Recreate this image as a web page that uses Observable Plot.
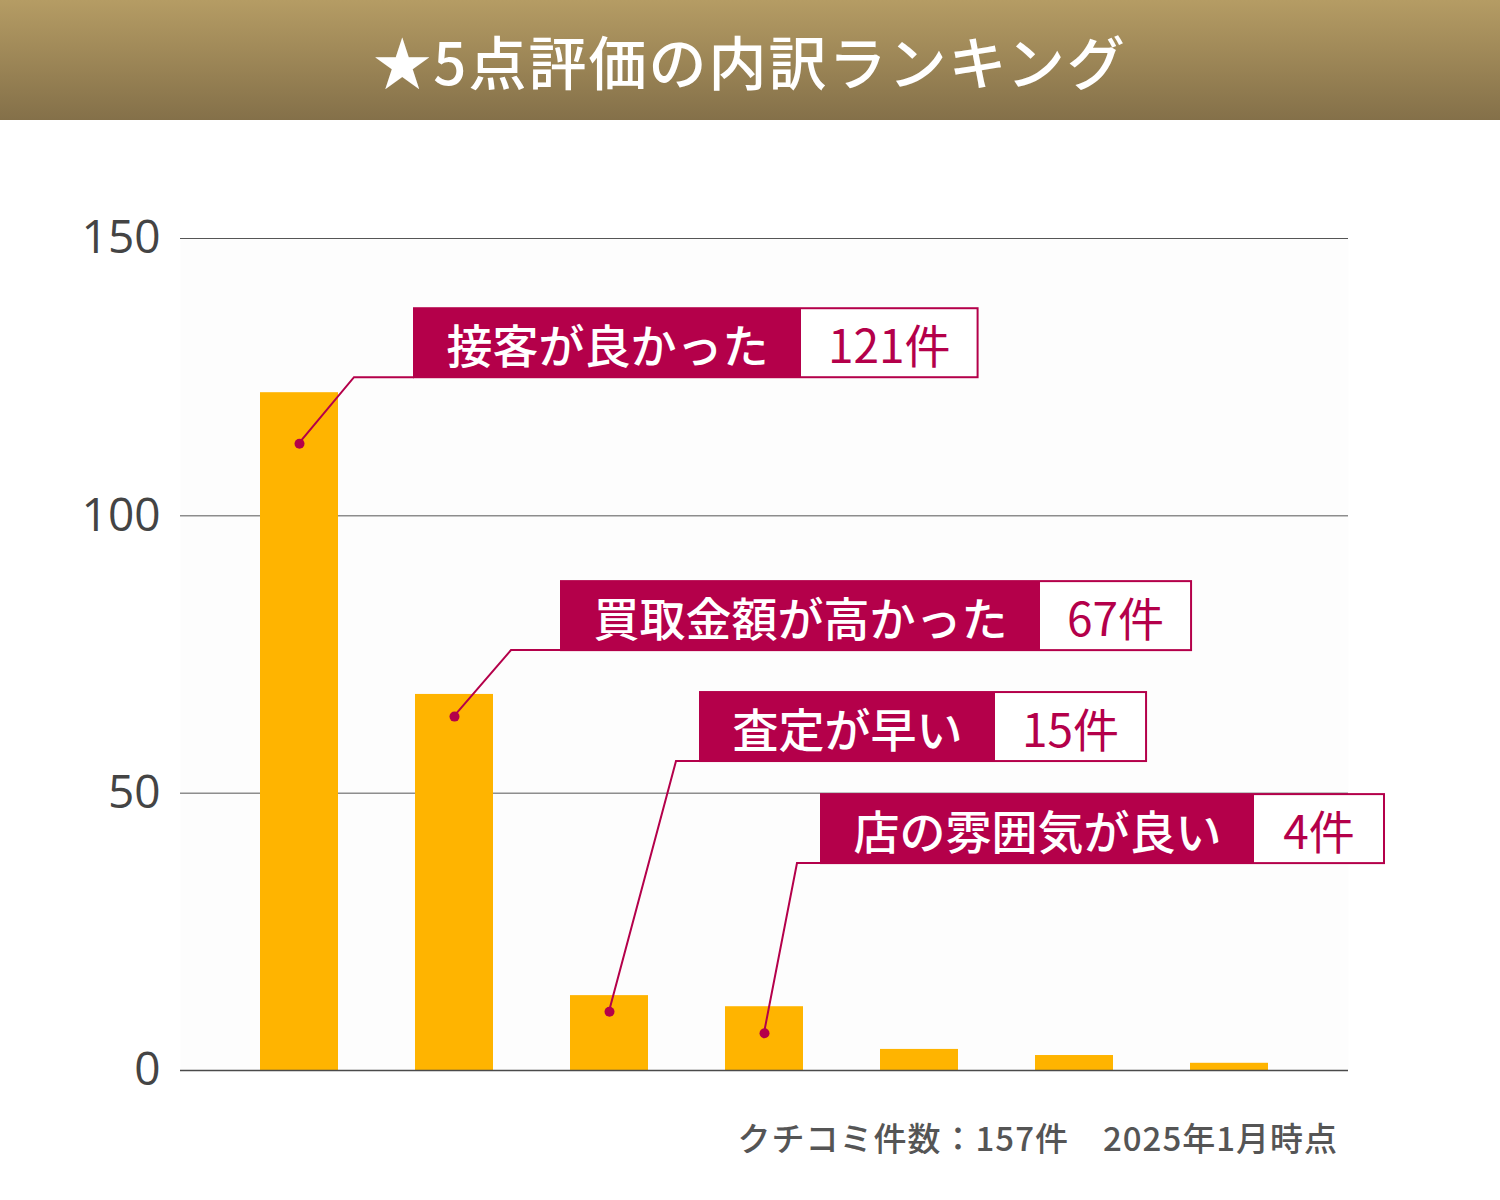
<!DOCTYPE html>
<html><head><meta charset="utf-8">
<script src="https://cdn.jsdelivr.net/npm/d3@7"></script>
<script src="https://cdn.jsdelivr.net/npm/@observablehq/plot@0.6"></script>
<style>
body{margin:0;background:#fff;width:1500px;font-family:"Noto Sans CJK JP","Noto Sans",sans-serif;}
#title{height:120px;background:linear-gradient(#b59c64,#847049);color:#fff;font-size:58px;font-weight:500;display:flex;align-items:center;justify-content:center;letter-spacing:2px;}
#chart svg{display:block;}
#caption{text-align:right;padding-right:162px;font-size:33px;line-height:34px;color:#555;font-weight:500;letter-spacing:1px;}
</style></head>
<body>
<div id="title">★5点評価の内訳ランキング</div>
<div id="chart"></div>
<div id="caption">クチコミ件数：157件　2025年1月時点</div>
<script>
// ---- data ----
const categories = ["接客が良かった","買取金額が高かった","査定が早い","店の雰囲気が良い","その他1","その他2","その他3"];
const barValues = [122.2, 67.8, 13.5, 11.5, 3.8, 2.7, 1.3];
const calloutLabels = ["接客が良かった","買取金額が高かった","査定が早い","店の雰囲気が良い"];
const calloutCounts = ["121件","67件","15件","4件"];
const yTicks = [0, 50, 100, 150];

// ---- annotation layout (kept apart from the data) ----
const dotAt = [113, 63.8, 10.6, 6.7];          // leader dot, in y units
const boxBottomAt = [124.9, 75.7, 55.7, 37.3]; // callout bottom, in y units
const elbowDx = [55, 57, 67, 33];              // px from bar centre
const boxDx = [115, 107, 91, 57];              // px from bar centre

const CRIMSON = "#b4004a";
const FONT = '"Noto Sans CJK JP","Noto Sans",sans-serif';
const data = categories.map((c, i) => ({cat: c, value: barValues[i]}));
const dots = calloutLabels.map((l, i) => ({cat: categories[i], y: dotAt[i]}));

const mctx = document.createElement("canvas").getContext("2d");
function tw(s, weight) { mctx.font = `${weight} 46px ${FONT}`; return mctx.measureText(s).width; }

function callouts(index, scales, values, dimensions) {
  const g = d3.create("svg:g");
  const x = scales.x, y = scales.y;
  const step = (dimensions.width - dimensions.marginLeft - dimensions.marginRight) / (categories.length + 0.5);
  const bw = typeof x.bandwidth === "function" ? x.bandwidth() : step * 0.5;
  const H = 69;
  calloutLabels.forEach((lab, i) => {
    const cx = x(categories[i]) + bw / 2;
    const dy = y(dotAt[i]);
    const by = y(boxBottomAt[i]);
    const ex = cx + elbowDx[i];
    const bx = cx + boxDx[i];
    const redW = tw(lab, 500) + 65;
    const whiteW = Math.max(tw(calloutCounts[i], 400) + 54, 130);
    g.append("polyline")
      .attr("points", `${cx},${dy} ${ex},${by} ${bx},${by}`)
      .attr("fill", "none").attr("stroke", CRIMSON).attr("stroke-width", 2);
    g.append("rect").attr("x", bx).attr("y", by - H).attr("width", redW + whiteW).attr("height", H)
      .attr("fill", "#fff").attr("stroke", CRIMSON).attr("stroke-width", 2);
    g.append("rect").attr("x", bx).attr("y", by - H).attr("width", redW).attr("height", H)
      .attr("fill", CRIMSON);
    g.append("text").attr("x", bx + redW / 2).attr("y", by - H / 2)
      .attr("text-anchor", "middle").attr("dominant-baseline", "central")
      .attr("fill", "#fff").attr("font-size", 46).attr("font-weight", 500).attr("font-family", FONT)
      .text(lab);
    g.append("text").attr("x", bx + redW + whiteW / 2).attr("y", by - H / 2)
      .attr("text-anchor", "middle").attr("dominant-baseline", "central")
      .attr("fill", CRIMSON).attr("font-size", 46).attr("font-weight", 400).attr("font-family", FONT)
      .text(calloutCounts[i]);
  });
  return g.node();
}

const chart = Plot.plot({
  width: 1500,
  height: 1000,
  marginTop: 118,
  marginBottom: 50,
  marginLeft: 180,
  marginRight: 152,
  style: {fontFamily: FONT, fontSize: "42px", color: "#444", background: "#fff"},
  x: {domain: categories, padding: 0.5, axis: null},
  y: {domain: [0, 150], label: null},
  marks: [
    Plot.frame({fill: "#fdfdfd", stroke: null}),
    Plot.gridY(yTicks, {stroke: "#555", strokeOpacity: 1, strokeWidth: 1}),
    Plot.axisY(yTicks, {tickSize: 0, tickPadding: 20, fontFamily: '"Open Sans",sans-serif', fontSize: 46, fill: "#444", label: null}),
    Plot.barY(data, {x: "cat", y: "value", fill: "#FFB400"}),
    Plot.ruleY([0], {stroke: "#4a4a4a", strokeWidth: 1.5}),
    callouts,
    Plot.dot(dots, {x: "cat", y: "y", r: 5, fill: CRIMSON, stroke: null})
  ]
});
document.getElementById("chart").append(chart);
</script>
</body></html>
